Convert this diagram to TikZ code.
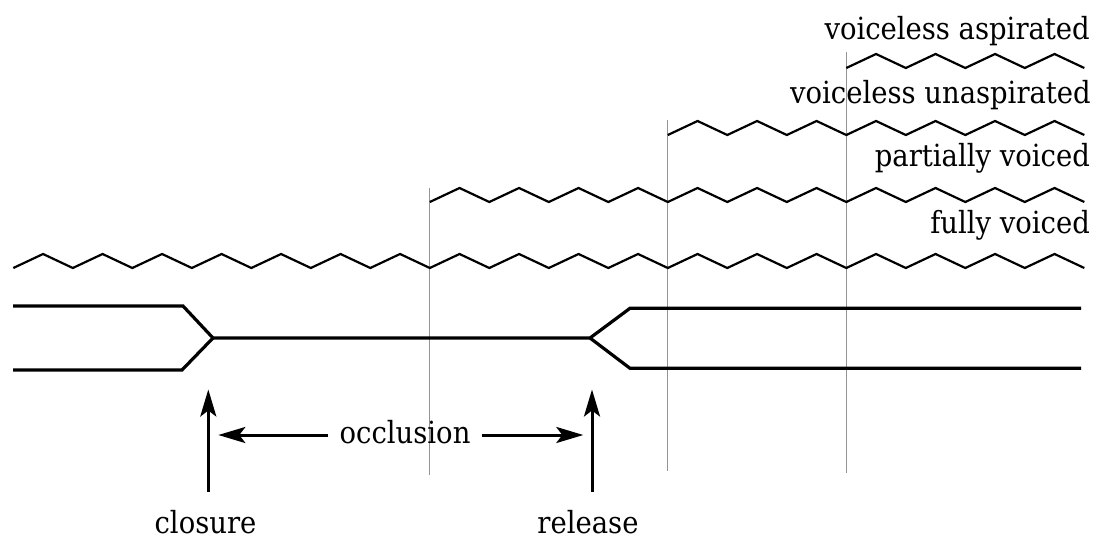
\documentclass[tikz,border=0pt]{standalone}
\usepackage{fontspec}
\setmainfont{DejaVu Serif Condensed}
\usetikzlibrary{arrows.meta}
\begin{document}
\begin{tikzpicture}[x=1pt,y=-1pt,
  wave/.style={line width=2.2pt,line join=miter},
  artic/.style={line width=3.2pt,line join=miter},
  guide/.style={line width=1.3pt,draw=black!42},
  pointer/.style={line width=3pt,-{Stealth[length=27pt,width=16pt,inset=6pt]}},
  lbl/.style={inner sep=0pt,font=\fontsize{30.5}{36}\selectfont}]
\useasboundingbox (0,0) rectangle (1096,538);
% guide lines
\coordinate (g1t) at (429.5,188); \coordinate (g1b) at (429.5,475);
\coordinate (g2t) at (667.5,120); \coordinate (g2b) at (667.5,471);
\coordinate (g3t) at (846.3,52);  \coordinate (g3b) at (846.3,473);
\draw[guide] (g1t) -- (g1b);
\draw[guide] (g2t) -- (g2b);
\draw[guide] (g3t) -- (g3b);
% waves
\draw[wave] (13.3,268) foreach \k in {1,...,36} { -- ({13.3+29.75*\k},{261+7*cos(180*\k)}) };
\draw[wave] ({13.3+29.75*14},202) foreach \k in {15,...,36} { -- ({13.3+29.75*\k},{195+7*cos(180*\k)}) };
\draw[wave] ({13.3+29.75*22},135) foreach \k in {23,...,36} { -- ({13.3+29.75*\k},{128+7*cos(180*\k)}) };
\draw[wave] ({13.3+29.75*28},68) foreach \k in {29,...,36} { -- ({13.3+29.75*\k},{61+7*cos(180*\k)}) };
% articulators
\coordinate (cl) at (213,338);
\coordinate (rl) at (590,338);
\draw[artic] (13,306) -- (183,306) -- (cl) -- (rl) -- (630,308.3) -- (1081,308.3);
\draw[artic] (13,370) -- (182,370) -- (cl);
\draw[artic] (rl) -- (630,368.3) -- (1081,368.3);
% labels
\node[lbl,anchor=base east] (asp) at (1090,39.5) {voiceless aspirated};
\node[lbl,anchor=base east] (unasp) at (1091,103.3) {voiceless unaspirated};
\node[lbl,anchor=base east] (part) at (1090,166.7) {partially voiced};
\node[lbl,anchor=base east] (full) at (1090,233.3) {fully voiced};
\node[lbl,anchor=base,text depth=0pt] (closure) at (205.5,533) {closure};
\node[lbl,anchor=base,text depth=0pt] (release) at (588,533) {release};
\node[lbl,anchor=base] (occ) at (405,443) {occlusion};
% arrows
\coordinate (closeBase) at (208.3,492);
\coordinate (closeTip) at (208.3,389.5);
\coordinate (relBase) at (592,492);
\coordinate (relTip) at (592,389.5);
\draw[pointer] (closeBase) -- (closeTip);
\draw[pointer] (relBase) -- (relTip);
\coordinate (occLs) at (328.3,435);
\coordinate (occL) at (218.3,435);
\coordinate (occRs) at (481.7,435);
\coordinate (occR) at (583.3,435);
\draw[pointer] (occLs) -- (occL);
\draw[pointer] (occRs) -- (occR);
\end{tikzpicture}
\end{document}
